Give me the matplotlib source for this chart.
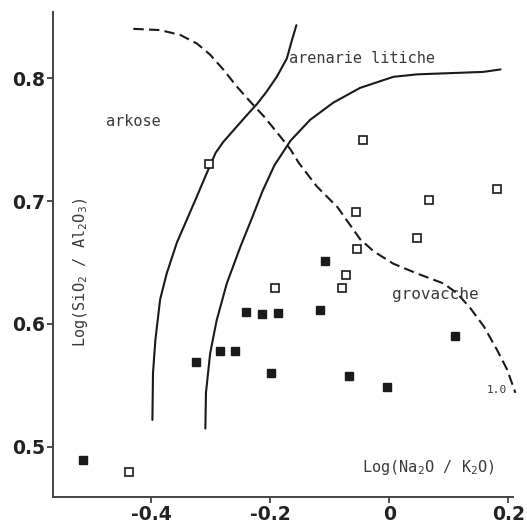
import matplotlib
matplotlib.use("Agg")
import matplotlib.pyplot as plt

# dati
filled_x = [-0.241, -0.214, -0.187, -0.116, -0.285, -0.260, -0.324, -0.199, -0.068, -0.003, -0.108, 0.111, -0.515]
filled_y = [0.610, 0.608, 0.609, 0.611, 0.578, 0.578, 0.569, 0.560, 0.558, 0.549, 0.651, 0.590, 0.489]

open_x = [-0.044, 0.181, 0.067, -0.056, 0.047, -0.055, -0.073, -0.080, -0.192, -0.303, -0.438]
open_y = [0.750, 0.710, 0.701, 0.691, 0.670, 0.661, 0.640, 0.629, 0.629, 0.730, 0.480]

# limite arkose / arenarie
curve1_x = [-0.398, -0.397, -0.393, -0.385, -0.374, -0.357, -0.340, -0.323, -0.309, -0.292,
            -0.279, -0.259, -0.239, -0.222, -0.206, -0.189, -0.172, -0.164, -0.156]
curve1_y = [0.522, 0.560, 0.587, 0.620, 0.641, 0.666, 0.685, 0.704, 0.720, 0.739,
            0.748, 0.759, 0.770, 0.779, 0.789, 0.801, 0.816, 0.830, 0.843]

# limite arenarie / grovacche
curve2_x = [-0.309, -0.308, -0.301, -0.290, -0.273, -0.250, -0.230, -0.213, -0.193, -0.166,
            -0.133, -0.094, -0.049, 0.007, 0.047, 0.103, 0.158, 0.187]
curve2_y = [0.515, 0.544, 0.576, 0.603, 0.633, 0.663, 0.687, 0.708, 0.729, 0.749,
            0.766, 0.780, 0.792, 0.801, 0.803, 0.804, 0.805, 0.807]

# curva tratteggiata (1.0)
dash_x = [-0.430, -0.385, -0.351, -0.323, -0.301, -0.279, -0.256, -0.234, -0.211, -0.189,
          -0.166, -0.152, -0.122, -0.087, -0.049, -0.026, 0.007, 0.047, 0.091, 0.114,
          0.136, 0.159, 0.181, 0.198, 0.212]
dash_y = [0.840, 0.839, 0.835, 0.828, 0.819, 0.807, 0.793, 0.781, 0.769, 0.756,
          0.742, 0.731, 0.712, 0.695, 0.669, 0.659, 0.649, 0.641, 0.633, 0.625,
          0.613, 0.598, 0.579, 0.563, 0.544]

x_ticks = [-0.4, -0.2, 0, 0.2]
x_ticklabels = ["-0.4", "-0.2", "0", "0.2"]
y_ticks = [0.5, 0.6, 0.7, 0.8]
y_ticklabels = ["0.5", "0.6", "0.7", "0.8"]

fig = plt.figure(figsize=(5.27, 5.24), dpi=100)
ax = fig.add_axes([0.1006, 0.0515, 0.8729, 0.9256])

ink = "#1a1a1a"
txt = "#3a3a3a"

ax.plot(curve1_x, curve1_y, color=ink, lw=1.5, solid_joinstyle="round", solid_capstyle="round")
ax.plot(curve2_x, curve2_y, color=ink, lw=1.5, solid_joinstyle="round", solid_capstyle="round")
ax.plot(dash_x, dash_y, color=ink, lw=1.5, dashes=(5, 2.5), clip_on=False)

ax.plot(filled_x, filled_y, "s", color=ink, ms=6.2, mec=ink, clip_on=False)
ax.plot(open_x, open_y, "s", mfc="white", mec=ink, ms=5.5, mew=1.2, clip_on=False)

mono = "DejaVu Sans Mono"
ax.text(-0.430, 0.765, "arkose", family=mono, fontsize=11, color=txt, ha="center", va="center")
ax.text(-0.046, 0.816, "arenarie litiche", family=mono, fontsize=11, color=txt, ha="center", va="center")
ax.text(0.077, 0.624, "grovacche", family=mono, fontsize=11.5, color=txt, ha="center", va="center")
ax.text(0.180, 0.546, "1.0", family=mono, fontsize=8, color=txt, ha="center", va="center")
ax.text(0.066, 0.483, "Log(Na$_2$O / K$_2$O)", family=mono, fontsize=11, color=txt, ha="center", va="center")
ax.text(-0.519, 0.642, "Log(SiO$_2$ / Al$_2$O$_3$)", family=mono, fontsize=11, color=txt,
        ha="center", va="center", rotation=90)

ax.set_xlim(-0.565, 0.208)
ax.set_ylim(0.4593, 0.8537)
ax.set_xticks(x_ticks)
ax.set_xticklabels(x_ticklabels)
ax.set_yticks(y_ticks)
ax.set_yticklabels(y_ticklabels)
ax.tick_params(direction="out", length=4, width=1.2, colors="#333333", labelsize=13.5, pad=2)
for lab in ax.get_xticklabels() + ax.get_yticklabels():
    lab.set_fontweight("bold")
    lab.set_color("#222222")

ax.spines["top"].set_visible(False)
ax.spines["right"].set_visible(False)
for s in ["left", "bottom"]:
    ax.spines[s].set_linewidth(1.4)
    ax.spines[s].set_color("#444444")

fig.savefig("out.png", dpi=100)
